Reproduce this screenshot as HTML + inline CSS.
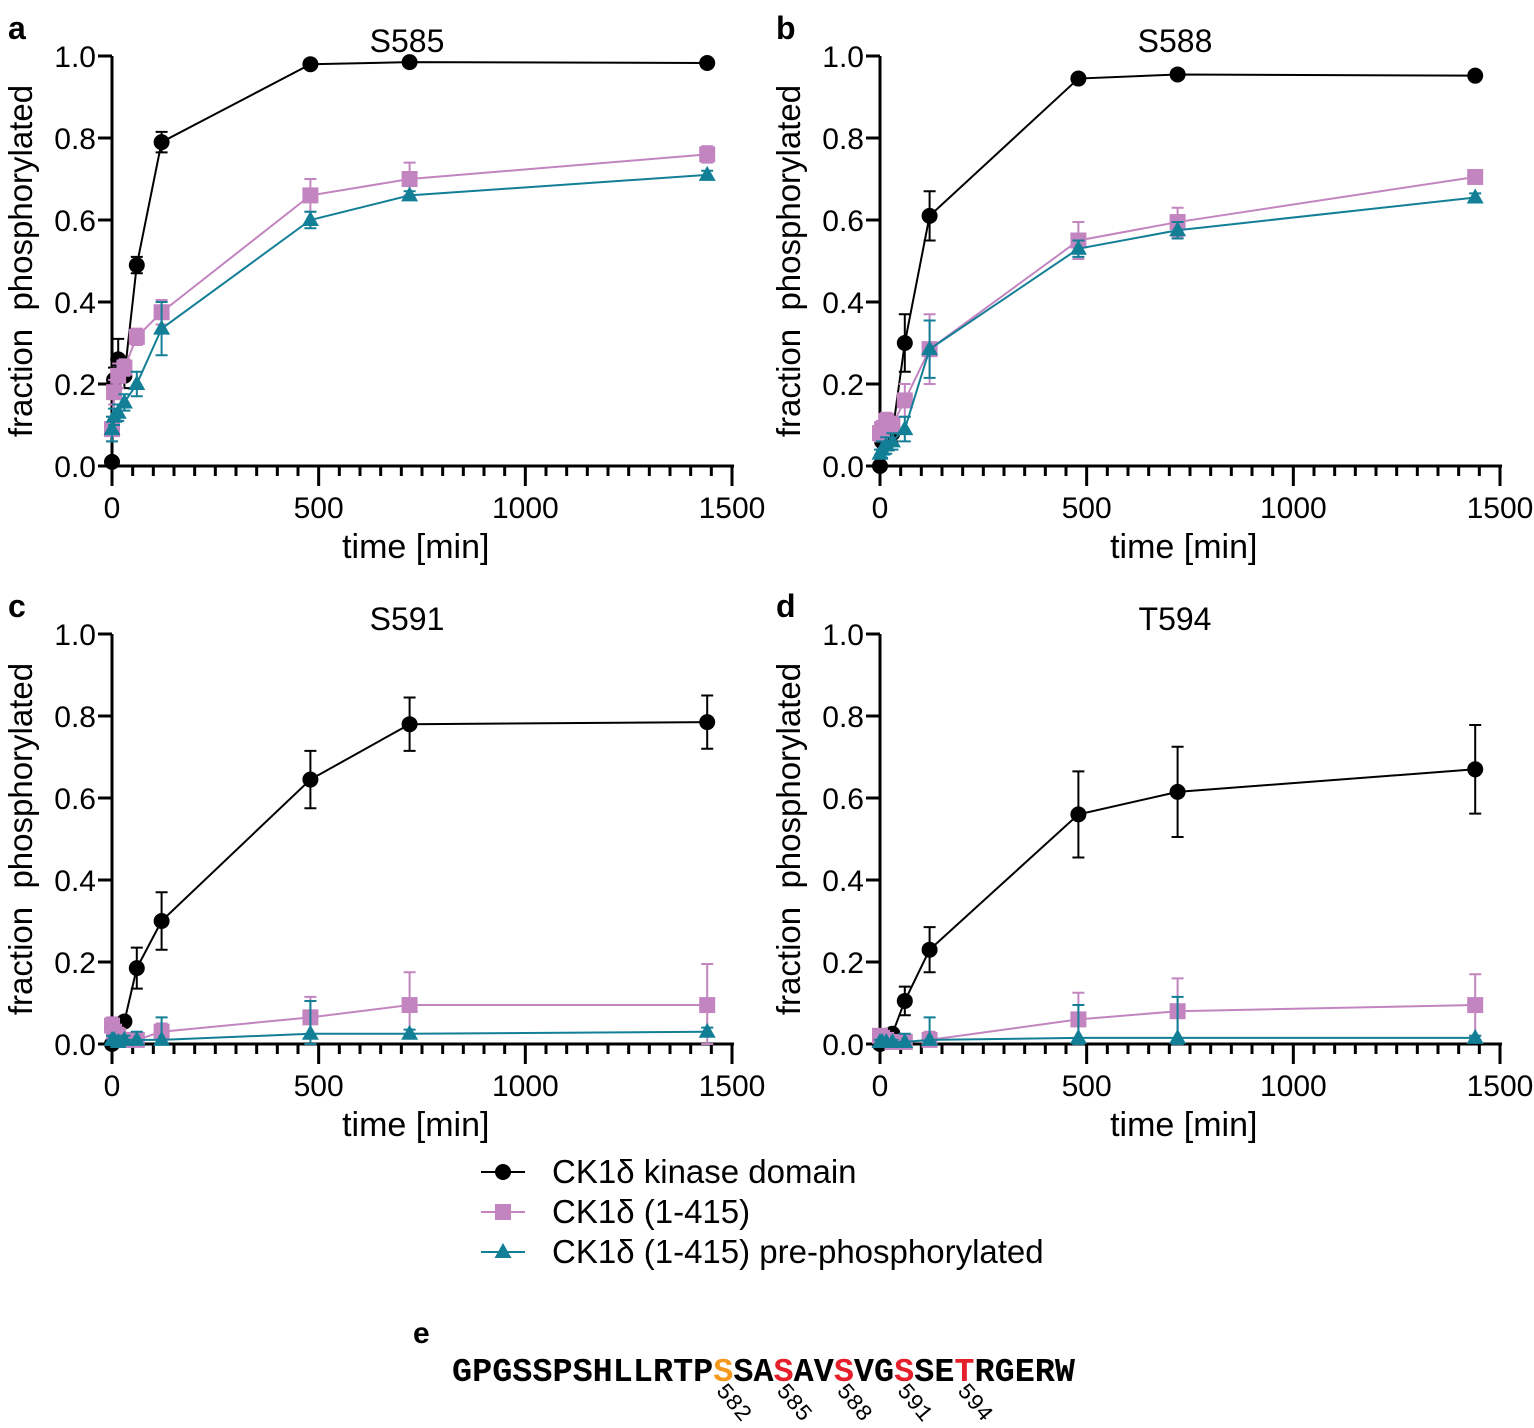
<!DOCTYPE html>
<html><head><meta charset="utf-8"><style>
body{margin:0;background:#fff}
svg{display:block;font-family:"Liberation Sans",sans-serif}
</style></head><body>
<svg id="s" width="1534" height="1428" viewBox="0 0 1534 1428" xmlns="http://www.w3.org/2000/svg"></svg>
<script>
const S=document.getElementById('s');let h='';
const T=[0,5,15,30,60,120,480,720,1440];
const K='#000',P='#c285c0',B='#127f97';
const panels=[
{x0:112,y0:466,lab:'a',title:'S585',d:[
 [K,'c',[0.01,0.21,0.26,0.22,0.49,0.79,0.98,0.985,0.983],[0.01,0.03,0.05,0.03,0.02,0.025,0.01,0.01,0.01]],
 [P,'s',[0.09,0.18,0.22,0.24,0.315,0.375,0.66,0.70,0.76],[0.03,0.03,0.03,0.02,0.02,0.03,0.04,0.04,0.02]],
 [B,'t',[0.09,0.12,0.13,0.155,0.2,0.335,0.6,0.66,0.71],[0.03,0.02,0.02,0.02,0.03,0.065,0.02,0.01,0.01]]]},
{x0:880,y0:466,lab:'b',title:'S588',d:[
 [K,'c',[0.0,0.06,0.1,0.08,0.3,0.61,0.945,0.955,0.952],[0.01,0.02,0.02,0.02,0.07,0.06,0.01,0.01,0.01]],
 [P,'s',[0.08,0.09,0.11,0.1,0.16,0.285,0.55,0.595,0.705],[0.02,0.02,0.02,0.02,0.04,0.085,0.045,0.035,0.015]],
 [B,'t',[0.03,0.04,0.05,0.06,0.09,0.285,0.53,0.575,0.655],[0.01,0.02,0.02,0.02,0.03,0.07,0.02,0.02,0.01]]]},
{x0:112,y0:1044,lab:'c',title:'S591',d:[
 [K,'c',[0,0.01,0.02,0.055,0.185,0.3,0.645,0.78,0.785],[0.005,0.01,0.01,0.01,0.05,0.07,0.07,0.065,0.065]],
 [P,'s',[0.045,0.03,0.02,0.01,0.01,0.03,0.065,0.095,0.095],[0.02,0.02,0.02,0.01,0.01,0.02,0.05,0.08,0.1]],
 [B,'t',[0.01,0.01,0.005,0.01,0.01,0.01,0.025,0.025,0.03],[0.01,0.01,0.01,0.01,0.02,0.055,0.08,0.01,0.01]]]},
{x0:880,y0:1044,lab:'d',title:'T594',d:[
 [K,'c',[0,0.005,0.02,0.025,0.105,0.23,0.56,0.615,0.67],[0.005,0.005,0.01,0.01,0.035,0.055,0.105,0.11,0.108]],
 [P,'s',[0.02,0.015,0.01,0.005,0.005,0.01,0.06,0.08,0.095],[0.01,0.01,0.01,0.01,0.01,0.02,0.065,0.08,0.075]],
 [B,'t',[0.005,0.005,0.005,0.005,0.005,0.01,0.015,0.015,0.015],[0.005,0.005,0.005,0.005,0.02,0.055,0.08,0.1,0.005]]]}
];
function mk(c,t,x,y){
 if(t=='c')return `<circle cx="${x}" cy="${y}" r="8" fill="${c}"/>`;
 if(t=='s')return `<rect x="${x-8}" y="${y-8}" width="16" height="16" fill="${c}"/>`;
 return `<polygon points="${x},${y-9} ${x+8.5},${y+6} ${x-8.5},${y+6}" fill="${c}"/>`;
}
for(const p of panels){
 const X=t=>p.x0+t*620/1500,Y=v=>p.y0-v*410;
 h+=`<line x1="${p.x0}" y1="${p.y0+20}" x2="${p.x0}" y2="${Y(1)}" stroke="#000" stroke-width="3"/>`;
 h+=`<line x1="${p.x0-2}" y1="${p.y0}" x2="${X(1500)+2}" y2="${p.y0}" stroke="#000" stroke-width="3"/>`;
 for(let i=0;i<=5;i++){const y=Y(i*0.2);
  h+=`<line x1="${p.x0-14}" y1="${y}" x2="${p.x0}" y2="${y}" stroke="#000" stroke-width="3"/>`;
  h+=`<text x="${p.x0-16}" y="${y+11}" font-size="30" text-anchor="end">${(i*0.2).toFixed(1)}</text>`;}
 for(let t=0;t<=1500;t+=50){const x=X(t);const big=t%500==0;
  h+=`<line x1="${x}" y1="${p.y0}" x2="${x}" y2="${p.y0+(big?20:10)}" stroke="#000" stroke-width="3"/>`;
  if(big)h+=`<text x="${x}" y="${p.y0+52}" font-size="30" text-anchor="middle">${t}</text>`;}
 h+=`<text x="${X(735)}" y="${p.y0+92}" font-size="34" text-anchor="middle">time [min]</text>`;
 h+=`<text transform="translate(${p.x0-80},${Y(0.5)}) rotate(-90)" font-size="33" text-anchor="middle" style="white-space:pre">fraction  phosphorylated</text>`;
 h+=`<text x="${p.x0+295}" y="${Y(1)-4}" font-size="32" text-anchor="middle">${p.title}</text>`;
 h+=`<text x="${p.x0-104}" y="${Y(1)-17}" font-size="32" font-weight="bold">${p.lab}</text>`;
 for(const [c,t,v,e] of p.d){
  h+=`<polyline fill="none" stroke="${c}" stroke-width="2" points="${T.map((tt,i)=>X(tt)+','+Y(v[i])).join(' ')}"/>`;
  T.forEach((tt,i)=>{const x=X(tt),a=Y(v[i]+e[i]),b=Y(Math.max(0,v[i]-e[i]));
   h+=`<path d="M${x},${a}V${b}M${x-6},${a}H${x+6}M${x-6},${b}H${x+6}" stroke="${c}" stroke-width="2" fill="none"/>`;});
  T.forEach((tt,i)=>h+=mk(c,t,X(tt),Y(v[i])));
 }
}
const L=[[K,'c','CK1δ kinase domain'],[P,'s','CK1δ (1-415)'],[B,'t','CK1δ (1-415) pre-phosphorylated']];
L.forEach((l,i)=>{const y=1172+i*40;
 h+=`<line x1="481" y1="${y}" x2="525" y2="${y}" stroke="${l[0]}" stroke-width="2"/>`+mk(l[0],l[1],503,y);
 h+=`<text x="552" y="${y+11}" font-size="33">${l[2]}</text>`;});
h+=`<text x="413" y="1343" font-size="30" font-weight="bold">e</text>`;
const seq='GPGSSPSHLLRTPSSASAVSVGSSETRGERW';
let tx='';for(let i=0;i<seq.length;i++){let c='#000';if(i==13)c='#f39a1e';if([16,19,22,25].includes(i))c='#e5202a';
 tx+=`<tspan fill="${c}">${seq[i]}</tspan>`;}
h+=`<text x="452" y="1381" font-size="33.5" font-weight="bold" font-family="Liberation Mono,monospace" textLength="623" lengthAdjust="spacingAndGlyphs">${tx}</text>`;
[[13,582],[16,585],[19,588],[22,591],[25,594]].forEach(([i,n])=>{const x=452+i*20.1+2;
 h+=`<text transform="translate(${x},1391) rotate(50)" font-size="23" font-family="Liberation Mono,monospace">${n}</text>`;});
S.innerHTML=h;
</script>
</body></html>
